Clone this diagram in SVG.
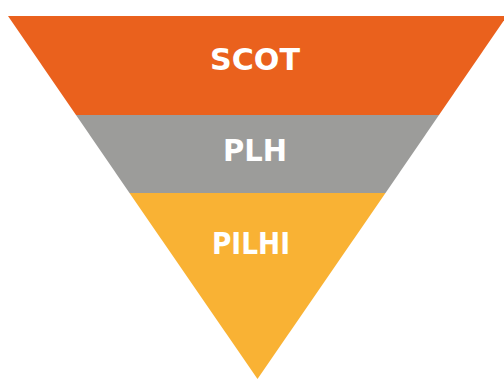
<svg xmlns="http://www.w3.org/2000/svg" width="504" height="379" viewBox="0 0 504 379">
<style>
.lbl{font-family:"DejaVu Sans","Liberation Sans",sans-serif;font-weight:bold;font-size:31px;fill:#ffffff;text-anchor:middle}
</style>
<rect width="504" height="379" fill="#ffffff"/>
<g id="scot">
<polygon points="8,16 507,16 439,115 76,115" fill="#EA611D"/>
<text class="lbl" x="255" y="70" textLength="90" lengthAdjust="spacingAndGlyphs">SCOT</text>
</g>
<g id="plh">
<polygon points="76,115 439,115 385.5,193 129.5,193" fill="#9C9C9A"/>
<text class="lbl" x="255" y="161" textLength="64" lengthAdjust="spacingAndGlyphs">PLH</text>
</g>
<g id="pilhi">
<polygon points="129.5,193 385.5,193 257.5,379" fill="#F9B234"/>
<text class="lbl" x="251" y="254" textLength="78" lengthAdjust="spacingAndGlyphs">PILHI</text>
</g>
<g id="connectors"></g>
</svg>
